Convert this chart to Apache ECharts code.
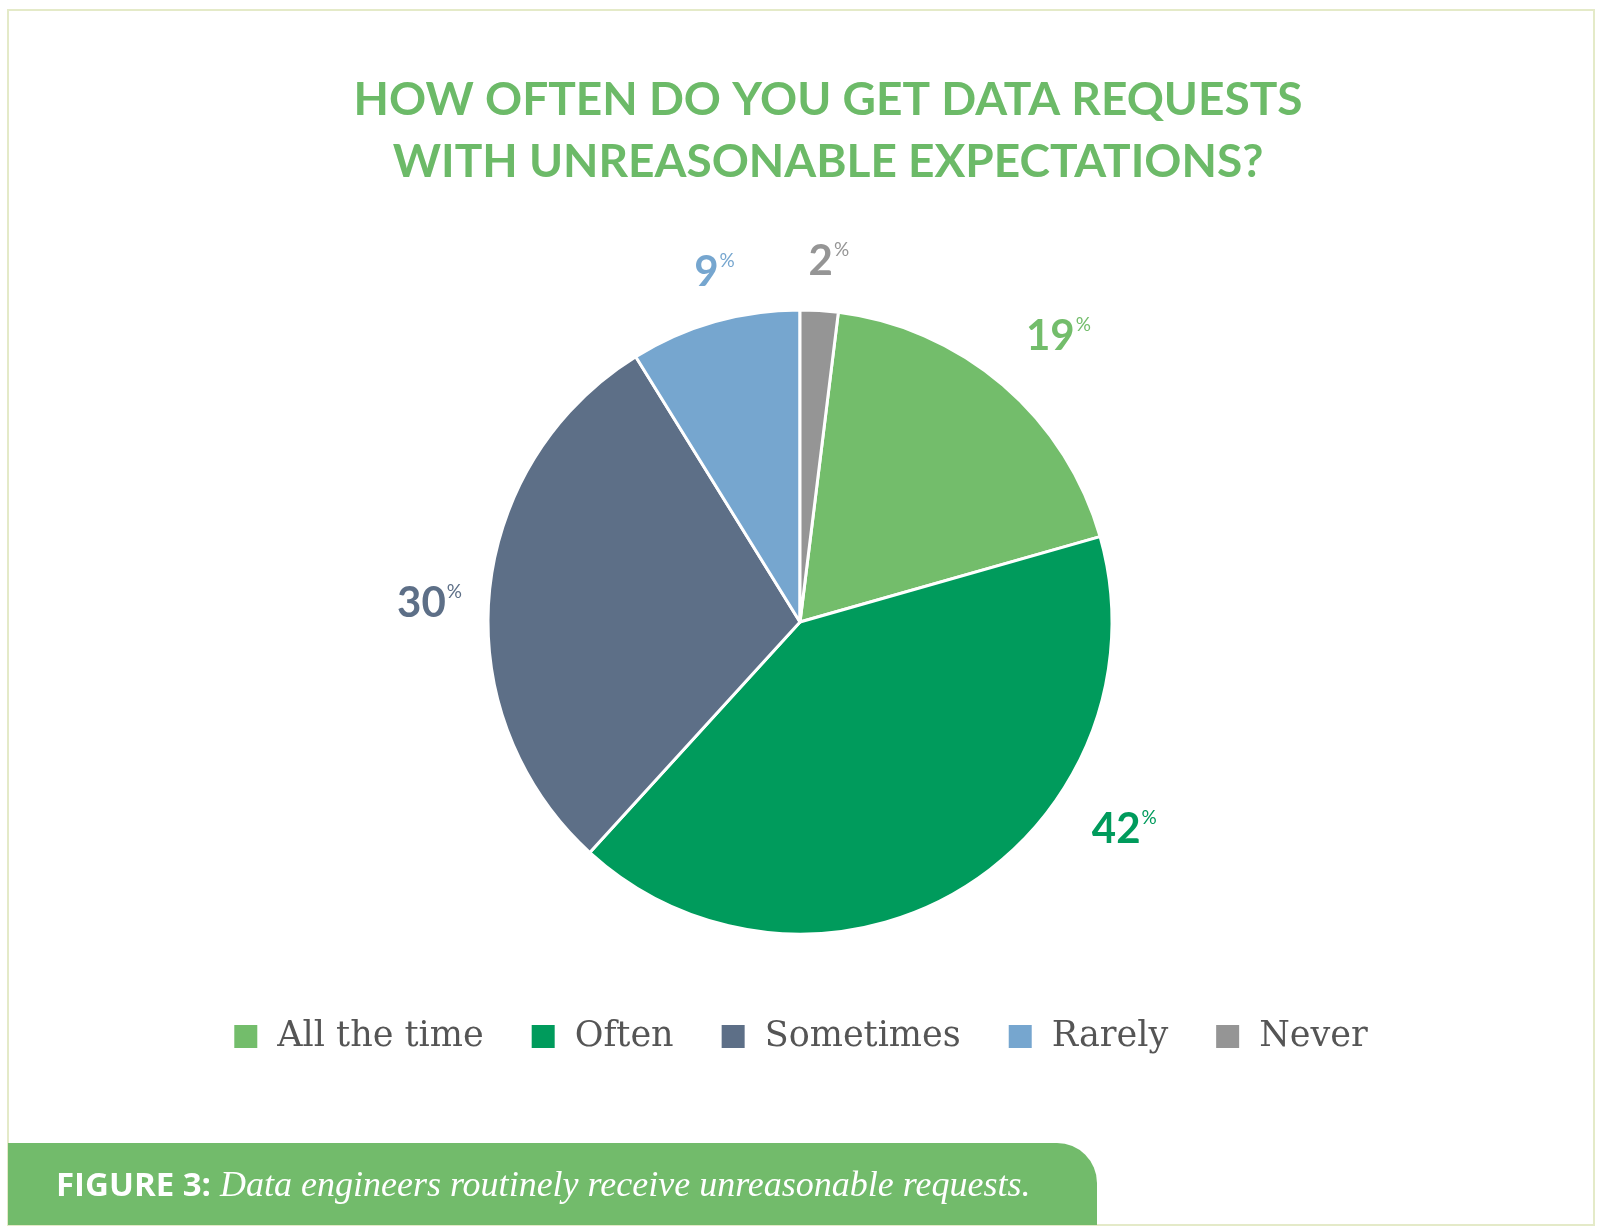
<!DOCTYPE html>
<html>
<head>
<meta charset="utf-8">
<script src="https://cdn.jsdelivr.net/npm/echarts@6/dist/echarts.min.js"></script>
<style>
  html, body { margin: 0; padding: 0; background: #fff; }
  #chart { width: 1600px; height: 1230px; }
</style>
</head>
<body>
<div id="chart"></div>
<script>
// answers, clockwise from just right of 12 o'clock
var categories = ['All the time', 'Often', 'Sometimes', 'Rarely', 'Never'];
var shares = [19, 42, 30, 9, 2];
var colors = ['#73bd6b', '#009b5c', '#5d6f87', '#76a6cf', '#959595'];

var titleLines = ['HOW OFTEN DO YOU GET DATA REQUESTS', 'WITH UNREASONABLE EXPECTATIONS?'];
var figureTag = 'FIGURE 3:';
var figureCaption = 'Data engineers routinely receive unreasonable requests.';

// the Never slice ends exactly at 12 o'clock
var total = shares.reduce(function (a, b) { return a + b; }, 0);
var startAngle = 90 - 360 * shares[shares.length - 1] / total;

var labelFont = 'Lato, "Open Sans", sans-serif';

// nudges so the labels sit where the original put them
var labelOffset = {
  'All the time': [17, -4],
  'Often': [129, -108],
  'Sometimes': [-1, 16],
  'Rarely': [16, 7],
  'Never': [6, 10]
};

var pieData = categories.map(function (c, i) {
  return { name: c, value: shares[i], itemStyle: { color: colors[i] } };
});

var labelData = categories.map(function (c, i) {
  return {
    name: c,
    value: shares[i],
    itemStyle: { color: 'rgba(0,0,0,0)' },
    label: {
      color: colors[i],
      offset: labelOffset[c] || [0, 0],
      rich: {
        n: { color: colors[i], fontSize: 42, fontWeight: 'bold', fontFamily: labelFont, lineHeight: 42 },
        p: { color: colors[i], fontSize: 19, fontWeight: 'normal', fontFamily: labelFont, verticalAlign: 'top', lineHeight: 42, padding: [0, 0, 14, 1] }
      }
    }
  };
});

var chart = echarts.init(document.getElementById('chart'));

var option = {
  backgroundColor: '#ffffff',
  animation: false,
  title: {
    text: titleLines.join('\n'),
    left: 823,
    textAlign: 'center',
    top: 64,
    textStyle: {
      color: '#6cba68',
      fontFamily: labelFont,
      fontWeight: 'bold',
      fontSize: 46,
      lineHeight: 62
    }
  },
  legend: {
    data: categories,
    left: 'center',
    top: 1014,
    icon: 'rect',
    itemWidth: 25,
    itemHeight: 25,
    itemGap: 46,
    selectedMode: false,
    textStyle: {
      color: '#555555',
      fontFamily: '"DejaVu Serif", serif',
      fontSize: 35,
      padding: [0, 0, 0, 14]
    }
  },
  series: [
    {
      name: 'answers',
      type: 'pie',
      center: [800, 622],
      radius: 312,
      startAngle: startAngle,
      clockwise: true,
      silent: true,
      label: { show: false },
      labelLine: { show: false },
      itemStyle: { borderColor: '#ffffff', borderWidth: 3 },
      data: pieData
    },
    {
      name: 'labels',
      type: 'pie',
      center: [800, 622],
      radius: [312, 424],
      startAngle: startAngle,
      clockwise: true,
      silent: true,
      legendHoverLink: false,
      label: {
        show: true,
        position: 'inside',
        formatter: function (p) { return '{n|' + p.value + '}{p|%}'; }
      },
      labelLine: { show: false },
      data: labelData
    }
  ],
  graphic: [
    {
      type: 'rect',
      shape: { x: 8, y: 10, width: 1586, height: 1215 },
      style: { fill: 'none', stroke: '#e4eac8', lineWidth: 2 },
      silent: true
    },
    {
      type: 'rect',
      shape: { x: 8, y: 1143, width: 1089, height: 82, r: [0, 40, 0, 0] },
      style: { fill: '#72bb6b' },
      silent: true
    },
    {
      type: 'text',
      x: 56,
      y: 1187,
      silent: true,
      style: {
        text: '{b|' + figureTag + '}{i|' + figureCaption + '}',
        verticalAlign: 'middle',
        rich: {
          b: { fill: '#ffffff', fontFamily: '"Open Sans", sans-serif', fontWeight: 'bold', fontSize: 33 },
          i: { fill: '#ffffff', fontFamily: '"Liberation Serif", serif', fontStyle: 'italic', fontSize: 36, padding: [0, 0, 0, 9] }
        }
      }
    }
  ]
};

chart.setOption(option);
</script>
</body>
</html>
